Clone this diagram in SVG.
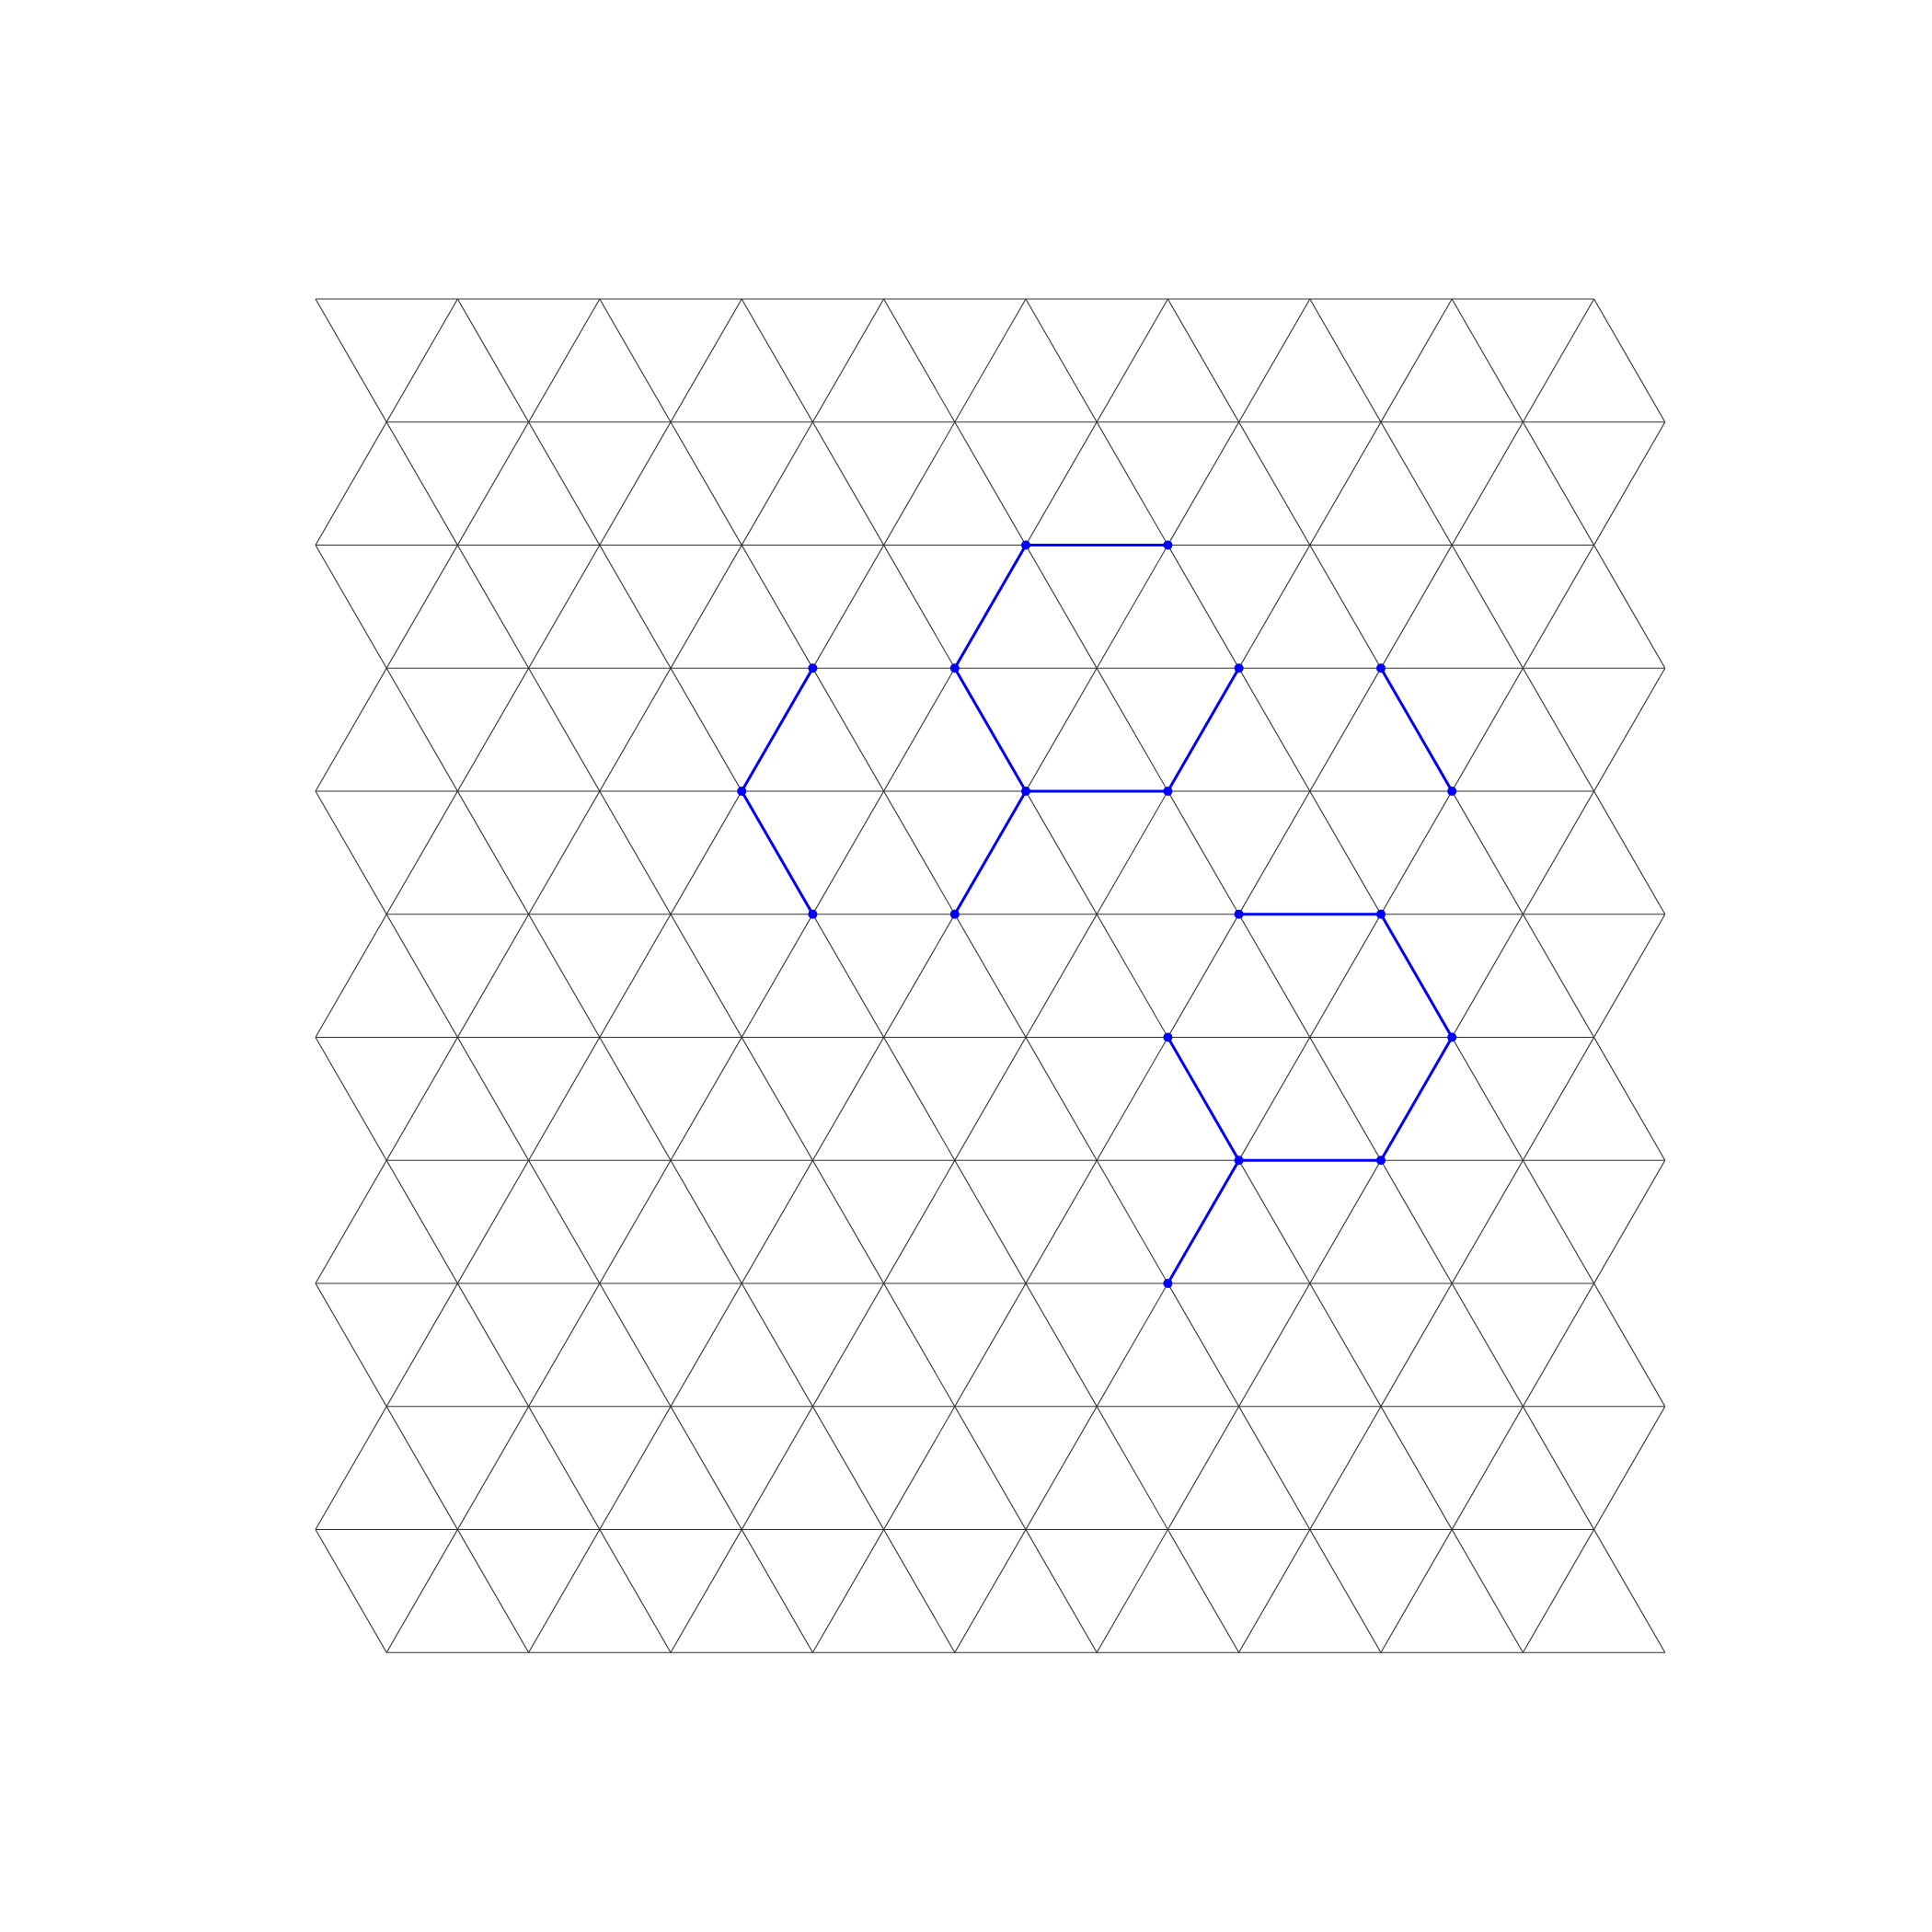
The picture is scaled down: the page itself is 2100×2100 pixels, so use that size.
<svg xmlns="http://www.w3.org/2000/svg" width="2100" height="2100" viewBox="0 0 2100 2100">
<style>
.g line{stroke:#333333;stroke-width:1.1;fill:none}
.e line{stroke:#0000ff;stroke-width:3;stroke-linecap:round}
.n circle{fill:#0000ff}
</style>
<rect width="2100" height="2100" fill="#ffffff"/>
<g id="grid" class="g">
<line x1="343" y1="325" x2="1732.6" y2="325"/>
<line x1="420.2" y1="458.75" x2="1809.8" y2="458.75"/>
<line x1="343" y1="592.5" x2="1732.6" y2="592.5"/>
<line x1="420.2" y1="726.25" x2="1809.8" y2="726.25"/>
<line x1="343" y1="860" x2="1732.6" y2="860"/>
<line x1="420.2" y1="993.75" x2="1809.8" y2="993.75"/>
<line x1="343" y1="1127.5" x2="1732.6" y2="1127.5"/>
<line x1="420.2" y1="1261.25" x2="1809.8" y2="1261.25"/>
<line x1="343" y1="1395" x2="1732.6" y2="1395"/>
<line x1="420.2" y1="1528.75" x2="1809.8" y2="1528.75"/>
<line x1="343" y1="1662.5" x2="1732.6" y2="1662.5"/>
<line x1="420.2" y1="1796.25" x2="1809.8" y2="1796.25"/>
<line x1="343" y1="1662.5" x2="420.2" y2="1796.25"/>
<line x1="343" y1="1395" x2="574.6" y2="1796.25"/>
<line x1="343" y1="1127.5" x2="729" y2="1796.25"/>
<line x1="343" y1="860" x2="883.4" y2="1796.25"/>
<line x1="343" y1="592.5" x2="1037.8" y2="1796.25"/>
<line x1="343" y1="325" x2="1192.2" y2="1796.25"/>
<line x1="497.4" y1="325" x2="1346.6" y2="1796.25"/>
<line x1="651.8" y1="325" x2="1501" y2="1796.25"/>
<line x1="806.2" y1="325" x2="1655.4" y2="1796.25"/>
<line x1="960.6" y1="325" x2="1809.8" y2="1796.25"/>
<line x1="1115" y1="325" x2="1809.8" y2="1528.75"/>
<line x1="1269.4" y1="325" x2="1809.8" y2="1261.25"/>
<line x1="1423.8" y1="325" x2="1809.8" y2="993.75"/>
<line x1="1578.2" y1="325" x2="1809.8" y2="726.25"/>
<line x1="1732.6" y1="325" x2="1809.8" y2="458.75"/>
<line x1="497.4" y1="325" x2="343" y2="592.5"/>
<line x1="651.8" y1="325" x2="343" y2="860"/>
<line x1="806.2" y1="325" x2="343" y2="1127.5"/>
<line x1="960.6" y1="325" x2="343" y2="1395"/>
<line x1="1115" y1="325" x2="343" y2="1662.5"/>
<line x1="1269.4" y1="325" x2="420.2" y2="1796.25"/>
<line x1="1423.8" y1="325" x2="574.6" y2="1796.25"/>
<line x1="1578.2" y1="325" x2="729" y2="1796.25"/>
<line x1="1732.6" y1="325" x2="883.4" y2="1796.25"/>
<line x1="1809.8" y1="458.75" x2="1037.8" y2="1796.25"/>
<line x1="1809.8" y1="726.25" x2="1192.2" y2="1796.25"/>
<line x1="1809.8" y1="993.75" x2="1346.6" y2="1796.25"/>
<line x1="1809.8" y1="1261.25" x2="1501" y2="1796.25"/>
<line x1="1809.8" y1="1528.75" x2="1655.4" y2="1796.25"/>
</g>
<g id="connectors" class="e">
<line x1="1115" y1="592.5" x2="1269.4" y2="592.5"/>
<line x1="1115" y1="592.5" x2="1037.8" y2="726.25"/>
<line x1="1037.8" y1="726.25" x2="1115" y2="860"/>
<line x1="1115" y1="860" x2="1269.4" y2="860"/>
<line x1="1269.4" y1="860" x2="1346.6" y2="726.25"/>
<line x1="1115" y1="860" x2="1037.8" y2="993.75"/>
<line x1="883.4" y1="726.25" x2="806.2" y2="860"/>
<line x1="806.2" y1="860" x2="883.4" y2="993.75"/>
<line x1="1501" y1="726.25" x2="1578.2" y2="860"/>
<line x1="1346.6" y1="993.75" x2="1501" y2="993.75"/>
<line x1="1501" y1="993.75" x2="1578.2" y2="1127.5"/>
<line x1="1578.2" y1="1127.5" x2="1501" y2="1261.25"/>
<line x1="1501" y1="1261.25" x2="1346.6" y2="1261.25"/>
<line x1="1346.6" y1="1261.25" x2="1269.4" y2="1127.5"/>
<line x1="1346.6" y1="1261.25" x2="1269.4" y2="1395"/>
</g>
<g class="n">
<g id="n1"><circle cx="1115" cy="592.5" r="5"/></g>
<g id="n2"><circle cx="1269.4" cy="592.5" r="5"/></g>
<g id="n3"><circle cx="883.4" cy="726.25" r="5"/></g>
<g id="n4"><circle cx="1037.8" cy="726.25" r="5"/></g>
<g id="n5"><circle cx="1346.6" cy="726.25" r="5"/></g>
<g id="n6"><circle cx="1501" cy="726.25" r="5"/></g>
<g id="n7"><circle cx="806.2" cy="860" r="5"/></g>
<g id="n8"><circle cx="1115" cy="860" r="5"/></g>
<g id="n9"><circle cx="1269.4" cy="860" r="5"/></g>
<g id="n10"><circle cx="1578.2" cy="860" r="5"/></g>
<g id="n11"><circle cx="883.4" cy="993.75" r="5"/></g>
<g id="n12"><circle cx="1037.8" cy="993.75" r="5"/></g>
<g id="n13"><circle cx="1346.6" cy="993.75" r="5"/></g>
<g id="n14"><circle cx="1501" cy="993.75" r="5"/></g>
<g id="n15"><circle cx="1269.4" cy="1127.5" r="5"/></g>
<g id="n16"><circle cx="1578.2" cy="1127.5" r="5"/></g>
<g id="n17"><circle cx="1346.6" cy="1261.25" r="5"/></g>
<g id="n18"><circle cx="1501" cy="1261.25" r="5"/></g>
<g id="n19"><circle cx="1269.4" cy="1395" r="5"/></g>
</g>
</svg>
